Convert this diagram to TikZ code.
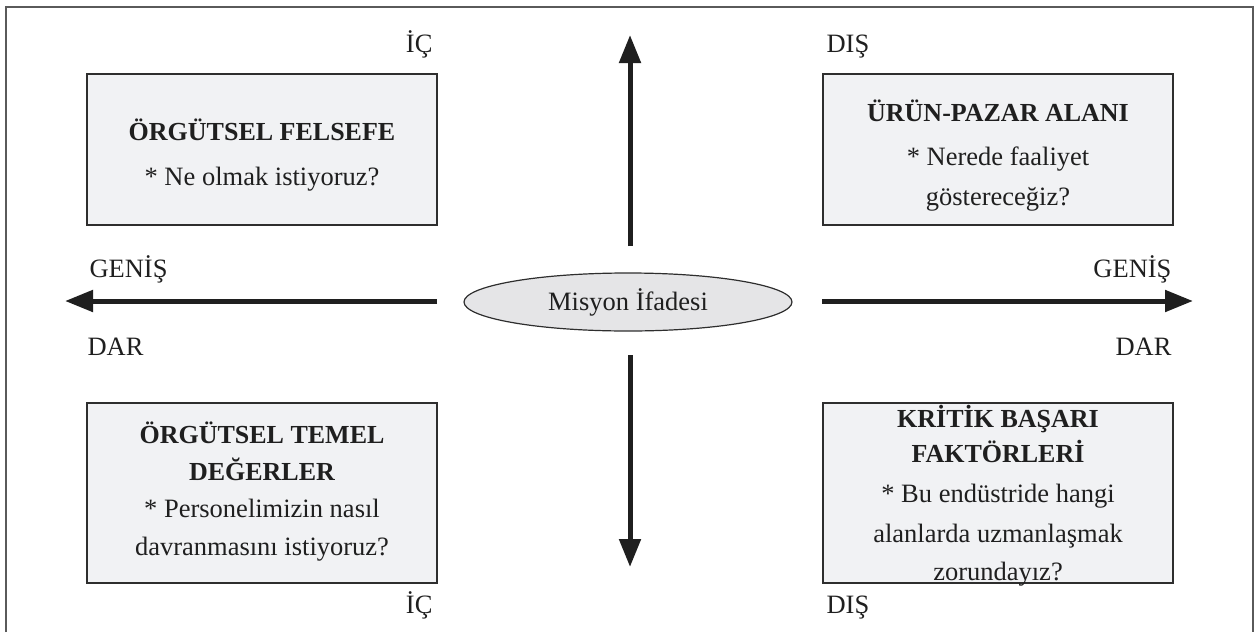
\documentclass[tikz,border=0pt]{standalone}
\usepackage{fontspec}
\setmainfont{Liberation Serif}
\usetikzlibrary{arrows.meta,shapes.geometric}
\definecolor{boxfill}{HTML}{F1F2F4}
\definecolor{ellfill}{HTML}{E5E5E7}
\definecolor{edge}{HTML}{2E2E2E}
\definecolor{framec}{HTML}{5A5A5A}
\begin{document}
\begin{tikzpicture}[x=1pt,y=-1pt,
  qbox/.style={draw=edge,line width=1.4pt,fill=boxfill,minimum width=350pt,inner sep=0pt},
  ttl/.style={anchor=base,font=\fontsize{26}{30}\selectfont\bfseries,text=black!88},
  qtxt/.style={anchor=base,font=\fontsize{26.5}{30}\selectfont,text=black!88},
  lblw/.style={anchor=base west,font=\fontsize{26.5}{30}\selectfont,text=black!88},
  lble/.style={anchor=base east,font=\fontsize{26.5}{30}\selectfont,text=black!88},
  bigarrow/.style={line width=5pt,draw=black!88,-{Triangle[length=28pt,width=21pt]}}]
\useasboundingbox (0,0) rectangle (1257,632);
% frame (open at bottom)
\draw[framec,line width=2pt] (5.5,632) -- (5.5,7) -- (1252.5,7) -- (1252.5,632);
% boxes
\node[qbox,minimum height=151pt] (tlb) at (262,149.5) {};
\node[qbox,minimum height=151pt] (trb) at (998,149.5) {};
\node[qbox,minimum height=180pt] (blb) at (262,493) {};
\node[qbox,minimum height=180pt] (brb) at (998,493) {};
% top-left text
\node[ttl] (tl1) at (262,140) {ÖRGÜTSEL FELSEFE};
\node[qtxt] (tl2) at (262,185) {* Ne olmak istiyoruz?};
% top-right text
\node[ttl] (tr1) at (998,121) {ÜRÜN-PAZAR ALANI};
\node[qtxt] (tr2) at (998,165) {* Nerede faaliyet};
\node[qtxt] (tr3) at (998,205) {göstereceğiz?};
% bottom-left text
\node[ttl] (bl1) at (262,443) {ÖRGÜTSEL TEMEL};
\node[ttl] (bl2) at (262,480) {DEĞERLER};
\node[qtxt] (bl3) at (262,517) {* Personelimizin nasıl};
\node[qtxt] (bl4) at (262,555) {davranmasını istiyoruz?};
% bottom-right text
\node[ttl] (br1) at (998,427) {KRİTİK BAŞARI};
\node[ttl] (br2) at (998,462) {FAKTÖRLERİ};
\node[qtxt] (br3) at (998,502) {* Bu endüstride hangi};
\node[qtxt] (br4) at (998,542) {alanlarda uzmanlaşmak};
\node[qtxt] (br5) at (998,580) {zorundayız?};
% side labels
\node[lble] (icT) at (436,52) {İÇ};
\node[lblw] (disT) at (823,52) {DIŞ};
\node[lblw] (genL) at (86,277) {GENİŞ};
\node[lblw] (darL) at (84,355) {DAR};
\node[lble] (genR) at (1175,277) {GENİŞ};
\node[lble] (darR) at (1175,355) {DAR};
\node[lble] (icB) at (436,613) {İÇ};
\node[lblw] (disB) at (823,613) {DIŞ};
% center ellipse
\node[ellipse,draw=edge,line width=1.2pt,fill=ellfill,minimum width=328pt,minimum height=58pt,inner sep=0pt,
      font=\fontsize{26.5}{30}\selectfont,text=black!88] (ell) at (628,302) {Misyon İfadesi};
% arrow end points
\coordinate (lS) at (437,301);
\coordinate (lE) at (65,301);
\coordinate (rS) at (822,301);
\coordinate (rE) at (1193,301);
\coordinate (uS) at (630,246);
\coordinate (uE) at (630,35);
\coordinate (dS) at (630,355);
\coordinate (dE) at (630,567);
\draw[bigarrow] (lS) -- (lE);
\draw[bigarrow] (rS) -- (rE);
\draw[bigarrow] (uS) -- (uE);
\draw[bigarrow] (dS) -- (dE);
\end{tikzpicture}
\end{document}
